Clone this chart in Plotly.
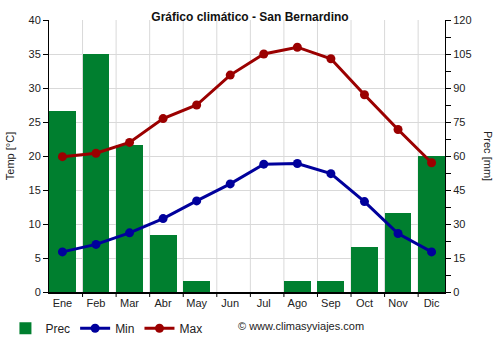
import plotly.graph_objects as go

months = ["Ene", "Feb", "Mar", "Abr", "May", "Jun", "Jul", "Ago", "Sep", "Oct", "Nov", "Dic"]
prec = [80, 105, 65, 25, 5, 0, 0, 5, 5, 20, 35, 60]
t_min = [5.9, 7.0, 8.7, 10.8, 13.4, 15.9, 18.8, 18.9, 17.4, 13.3, 8.6, 5.9]
t_max = [19.9, 20.4, 22.0, 25.5, 27.5, 31.9, 35.0, 36.0, 34.3, 29.0, 23.9, 19.0]

GREEN = "#007F2F"
BLUE = "#00009C"
RED = "#9B0000"
GRID = "#d9d9d9"
FONT = "Arial, Liberation Sans, sans-serif"

idx = list(range(len(months)))

fig = go.Figure()
fig.add_trace(go.Bar(x=idx, y=prec, name="Prec", marker_color=GREEN,
                     marker_line_width=0, width=0.8, yaxis="y"))
fig.add_trace(go.Scatter(x=idx, y=t_min, name="Min", mode="lines+markers",
                         line=dict(color=BLUE, width=3), marker=dict(size=9, color=BLUE),
                         yaxis="y2"))
fig.add_trace(go.Scatter(x=idx, y=t_max, name="Max", mode="lines+markers",
                         line=dict(color=RED, width=3), marker=dict(size=9, color=RED),
                         yaxis="y2"))

# vertical grid lines between month columns, with a small tick below the axis
shapes = []
for i in range(1, 12):
    xg = i - 0.4
    shapes.append(dict(type="line", xref="x", yref="paper", x0=xg, x1=xg, y0=0, y1=1,
                       line=dict(color=GRID, width=1), layer="below"))
    shapes.append(dict(type="line", xref="x", yref="paper", x0=xg, x1=xg,
                       y0=0, y1=-5 / 273, line=dict(color="black", width=1), layer="above"))

fig.update_layout(
    width=500, height=350,
    margin=dict(l=49, r=55, t=19.5, b=57.5, autoexpand=False),
    paper_bgcolor="white", plot_bgcolor="white",
    font=dict(family=FONT, size=11, color="#222"),
    showlegend=True,
    legend=dict(orientation="h", x=-0.11, y=-0.08, xanchor="left", yanchor="top",
                font=dict(size=12, color="#222"), itemwidth=30, tracegroupgap=0,
                bgcolor="rgba(0,0,0,0)"),
    bargap=0,
    shapes=shapes,
    xaxis=dict(
        range=[-0.4, 11.4], tickmode="array", tickvals=idx, ticktext=months,
        ticks="", showgrid=False, zeroline=False,
        showline=True, linecolor="black", linewidth=2,
        tickfont=dict(size=11, color="#222"),
    ),
    yaxis=dict(
        side="right", range=[0, 120], tickmode="array",
        tickvals=list(range(0, 121, 15)), showgrid=True, gridcolor=GRID,
        zeroline=False, showline=True, linecolor="black", linewidth=1,
        ticks="outside", ticklen=5, tickcolor="black",
        tickfont=dict(size=11, color="#222"),
        minor=dict(tickvals=[7.5 + 15 * i for i in range(8)], ticks="outside",
                   ticklen=5, tickcolor="black", showgrid=False),
    ),
    yaxis2=dict(
        side="left", overlaying="y", range=[0, 40], tickmode="array",
        tickvals=list(range(0, 41, 5)), showgrid=False, zeroline=False,
        showline=True, linecolor="black", linewidth=1,
        ticks="outside", ticklen=5, tickcolor="black",
        tickfont=dict(size=11, color="#222"),
    ),
    title=dict(text="<b>Gráfico climático - San Bernardino</b>", x=0.5, xanchor="center",
               y=1 - 17 / 350, yanchor="middle", font=dict(size=12, color="#111")),
    annotations=[
        dict(text="Temp [°C]", textangle=-90, xref="paper", yref="paper",
             x=-0.098, y=0.5, xanchor="center", yanchor="middle", showarrow=False,
             font=dict(size=11, color="#222")),
        dict(text="Prec [mm]", textangle=90, xref="paper", yref="paper",
             x=(488 - 49) / 396, y=0.5, xanchor="center", yanchor="middle", showarrow=False,
             font=dict(size=11, color="#222")),
        dict(text="© www.climasyviajes.com", xref="paper", yref="paper",
             x=(236 - 49) / 396, y=-(327 - 292.5) / 273, xanchor="left", yanchor="middle",
             showarrow=False, font=dict(size=11, color="#222")),
    ],
)

fig.write_html("out.html")
